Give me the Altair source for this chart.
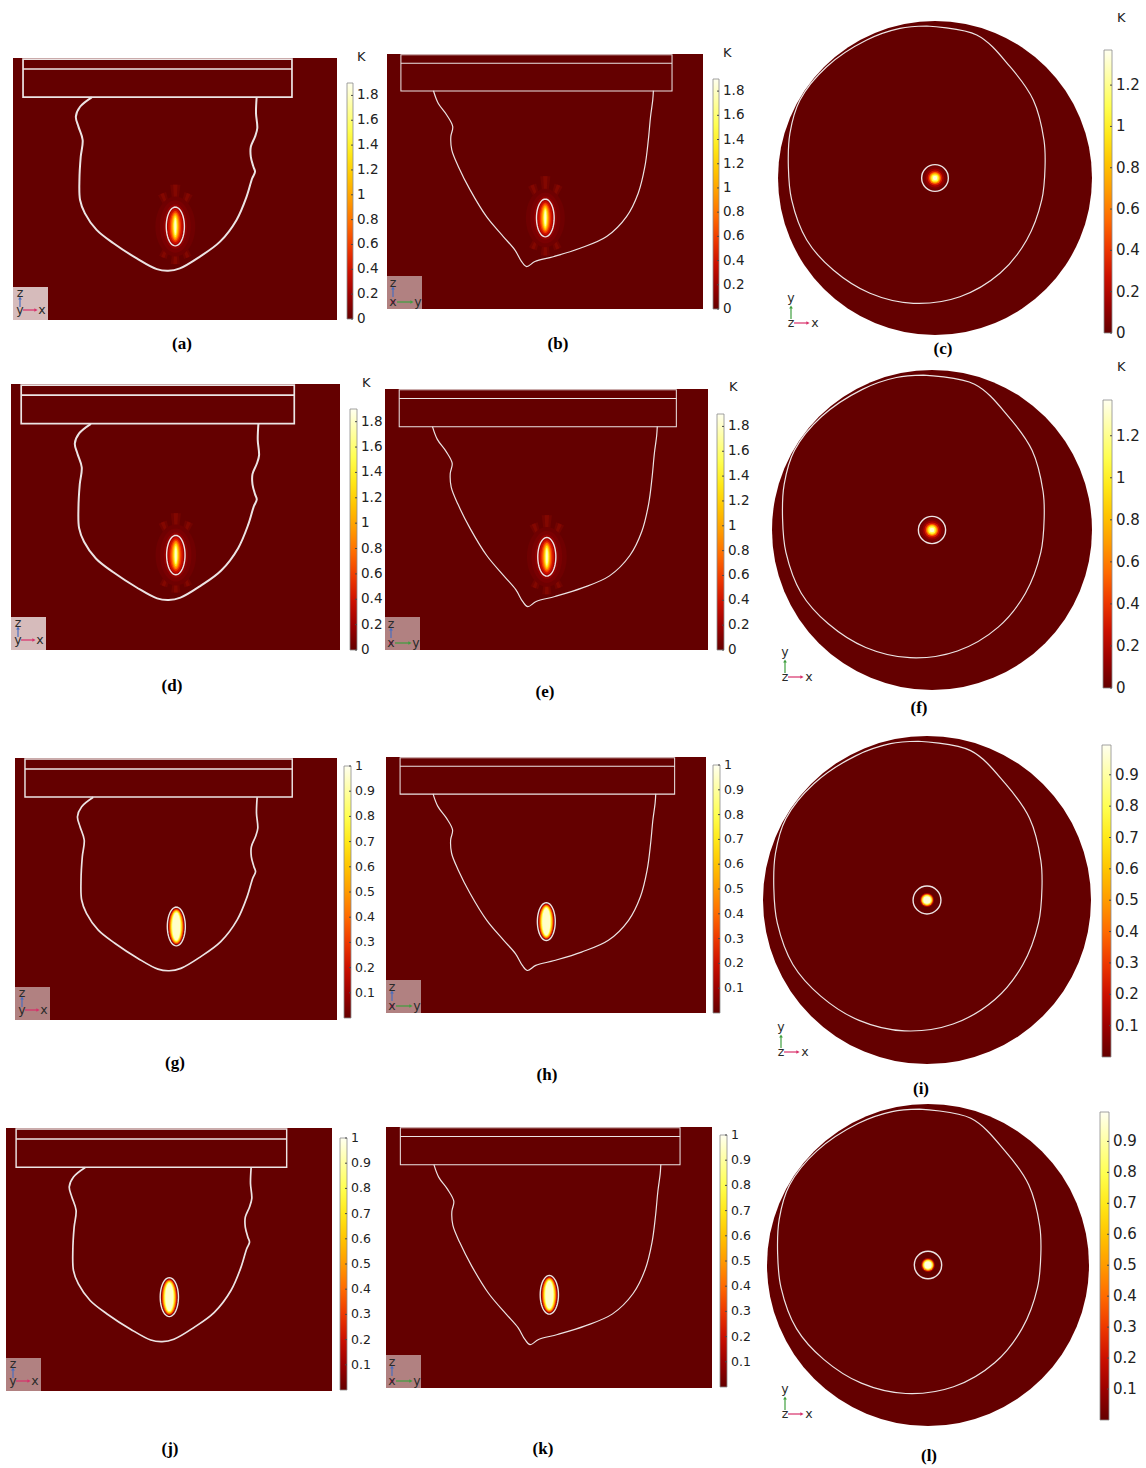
import math
import altair as alt
import pandas as pd

W, H = 1146, 1468

# ---------------- chart values ----------------
panel_keys = ["a", "b", "c", "d", "e", "f", "g", "h", "i", "j", "k", "l"]
panel_captions = ["(a)", "(b)", "(c)", "(d)", "(e)", "(f)",
                  "(g)", "(h)", "(i)", "(j)", "(k)", "(l)"]
panel_views = ["xz", "yz", "xy"] * 4
panel_rows = [1, 1, 1, 2, 2, 2, 3, 3, 3, 4, 4, 4]

# colour-bar ranges (upper end of each legend, lower end is 0)
range_max = [1.9, 1.9, 1.37, 1.9, 1.9, 1.37, 1.0, 1.0, 0.995, 1.0, 1.0, 0.995]
unit_labels = ["K", "K", "K", "K", "K", "K", "", "", "", "", "", ""]

ticks_a = ["0", "0.2", "0.4", "0.6", "0.8", "1", "1.2", "1.4", "1.6", "1.8"]
ticks_c = ["0", "0.2", "0.4", "0.6", "0.8", "1", "1.2"]
ticks_g = ["0.1", "0.2", "0.3", "0.4", "0.5", "0.6", "0.7", "0.8", "0.9", "1"]
ticks_i = ["0.1", "0.2", "0.3", "0.4", "0.5", "0.6", "0.7", "0.8", "0.9"]
panel_ticks = [ticks_a, ticks_a, ticks_c, ticks_a, ticks_a, ticks_c,
               ticks_g, ticks_g, ticks_i, ticks_g, ticks_g, ticks_i]

# thermal colour table (fraction of range -> colour)
cmap_pos = [0.0, 0.1, 0.2, 0.3, 0.4, 0.5, 0.6, 0.7, 0.8, 0.9, 1.0]
cmap_col = ["#640000", "#9c0000", "#cc1000", "#ee3800", "#ff6a00", "#ff9a00",
            "#ffc400", "#ffe818", "#ffff50", "#ffffa0", "#fffff0"]

# section outlines, % of the section window (u across, v down)
xz_u = [24.3, 20.7, 19.4, 20.2, 21.5, 20.9, 20.5, 20.7, 22.2, 25.8, 31.0, 38.2, 44.4,
        47.9, 51.5, 57.7, 63.9, 69.0, 72.1, 73.8, 74.7, 74.2, 73.4, 73.4, 74.7, 75.4,
        75.0, 75.2]
xz_v = [15.0, 18.6, 22.4, 26.2, 31.3, 37.7, 46.6, 54.2, 59.3, 65.6, 70.7, 76.5, 80.6,
        81.2, 80.3, 75.8, 70.1, 61.8, 52.9, 46.0, 43.4, 41.5, 37.7, 33.9, 30.0, 26.8,
        21.1, 15.0]
yz_u = [14.7, 16.2, 18.9, 20.8, 20.2, 20.5, 22.6, 26.3, 31.5, 36.8, 40.5, 42.6, 44.2,
        46.8, 52.6, 61.1, 69.5, 75.8, 79.5, 81.6, 82.7, 83.4, 84.1, 84.3]
yz_v = [14.4, 19.3, 23.9, 28.5, 32.4, 37.6, 44.2, 53.3, 63.8, 71.6, 76.9, 81.4, 83.4,
        81.4, 79.5, 76.2, 71.6, 63.8, 54.6, 44.2, 33.7, 24.6, 18.0, 14.4]
# plan-view outline, in units of the disc radius
xy_u = [-0.053, 0.266, 0.478, 0.626, 0.694, 0.701, 0.680, 0.584, 0.414, 0.159, -0.138,
        -0.414, -0.648, -0.817, -0.913, -0.934, -0.924, -0.860, -0.690, -0.435, -0.223]
xy_v = [-0.968, -0.911, -0.709, -0.497, -0.242, -0.072, 0.140, 0.395, 0.607, 0.756,
        0.798, 0.734, 0.586, 0.395, 0.140, -0.072, -0.285, -0.497, -0.709, -0.879, -0.953]

# upper block of the section views (% of window): u0, u1, v0, v_mid, v1
block_xz = [3.1, 86.1, 0.4, 4.2, 14.9]
block_yz = [4.4, 90.2, 0.3, 3.6, 14.5]

# heated inclusion: centre (%), boundary half-axes (%)
inclusion_uv = [50.1, 64.3]
inclusion_axes = [2.8, 7.4]
inclusion_ring_xy = 0.085
# nested isotherms: (x-scale, y-scale, fraction of range)
iso_low = [(2.2, 1.55, 0.02), (1.7, 1.35, 0.04), (1.3, 1.15, 0.08), (1.0, 1.0, 0.12),
           (0.8, 0.9, 0.2), (0.62, 0.8, 0.3), (0.48, 0.72, 0.42), (0.36, 0.64, 0.55),
           (0.26, 0.56, 0.7), (0.17, 0.46, 0.85), (0.09, 0.35, 0.95)]
iso_high = [(0.86, 0.93, 0.2), (0.76, 0.88, 0.4), (0.66, 0.83, 0.6),
            (0.56, 0.78, 0.8), (0.45, 0.72, 0.95)]
iso_disc_low = [(1.0, 0.02), (0.85, 0.04), (0.7, 0.1), (0.56, 0.22), (0.45, 0.4),
                (0.36, 0.6), (0.27, 0.8), (0.17, 0.96)]
iso_disc_high = [(0.5, 0.15), (0.43, 0.45), (0.36, 0.75), (0.27, 0.97)]

# ---------------- page layout (pixels) ----------------
rect_frames = {"a": (13, 58, 337, 320), "b": (387, 54, 703, 309),
               "d": (11, 384, 340, 650), "e": (385, 389, 708, 650),
               "g": (15, 758, 337, 1020), "h": (386, 757, 706, 1013),
               "j": (6, 1128, 332, 1391), "k": (386, 1127, 712, 1388)}
disc_frames = {"c": (935, 178, 157), "f": (932, 530, 160),
               "i": (927, 900, 164), "l": (928, 1265, 161)}
bar_frames = {"a": (347, 353, 83, 319), "b": (713, 719, 79, 309),
              "c": (1104, 1112, 50, 333), "d": (350, 357, 409, 650),
              "e": (717, 724, 414, 650), "f": (1103, 1112, 400, 688),
              "g": (344, 351, 766, 1018), "h": (713, 720, 765, 1013),
              "i": (1102, 1111, 745, 1057), "j": (340, 347, 1138, 1390),
              "k": (720, 727, 1135, 1387), "l": (1100, 1109, 1112, 1420)}
unit_pos = {"a": (357, 57), "b": (723, 53), "c": (1117, 18),
            "d": (362, 383), "e": (729, 387), "f": (1117, 367)}
caption_pos = {"a": (182, 344), "b": (558, 344), "c": (943, 349),
               "d": (172, 686), "e": (545, 692), "f": (919, 708),
               "g": (175, 1063), "h": (547, 1075), "i": (921, 1089),
               "j": (170, 1449), "k": (543, 1449), "l": (929, 1456)}
disc_triad = {"c": (791, 323), "f": (785, 677), "i": (781, 1052), "l": (785, 1414)}

BG = "#640000"
LINE = "#ece4e4"


def rect_map(frame, u, v):
    L, T, R, B = frame
    return L + u / 100.0 * (R - L), T + v / 100.0 * (B - T)


def ellipse_path(k, n=48):
    pts = []
    for i in range(n):
        a = 2 * math.pi * i / n
        pts.append(f"{k * math.sin(a):.4f},{-math.cos(a):.4f}")
    return "M" + "L".join(pts) + "Z"


def ray_path(width_deg):
    rays = [(0, 1.0), (22, 0.85), (-22, 0.85), (180, 0.9), (158, 0.8), (202, 0.8),
            (90, 0.4), (270, 0.4)]
    half = math.radians(width_deg)
    parts = []
    for deg, ln in rays:
        a = math.radians(deg)
        p1 = (ln * math.sin(a - half), -ln * math.cos(a - half))
        p2 = (ln * math.sin(a + half), -ln * math.cos(a + half))
        parts.append(f"M0,0L{p1[0]:.4f},{p1[1]:.4f}L{p2[0]:.4f},{p2[1]:.4f}Z")
    return "".join(parts)


# ---------------- tables ----------------
bg_rows, disc_rows, iso_rows, ring_rows, ray_rows = [], [], [], [], []
line_rows, block_rows, block_mid = [], [], []
bar_rows, tick_rows, label_rows, text_rows = [], [], [], []
triad_box, arrow_rows, head_rows, triad_text = [], [], [], []

for key, cap, view, row, vmax, unit, ticks in zip(
        panel_keys, panel_captions, panel_views, panel_rows, range_max,
        unit_labels, panel_ticks):
    hot = row >= 3
    if view in ("xz", "yz"):
        fr = rect_frames[key]
        L, T, R, B = fr
        w, h = R - L, B - T
        bg_rows.append({"x": L, "x2": R, "y": T, "y2": B})
        cx, cy = rect_map(fr, *inclusion_uv)
        rx = inclusion_axes[0] / 100 * w
        ry = inclusion_axes[1] / 100 * h
        if not hot:
            ray_rows.append({"x": cx, "y": cy, "sz": (2 * 42) ** 2})
        for fx, fy, t in (iso_high if hot else iso_low):
            iso_rows.append({"x": cx, "y": cy, "t": t,
                             "shape": ellipse_path((fx * rx) / (fy * ry)),
                             "sz": (2 * fy * ry) ** 2})
        ring_rows.append({"x": cx, "y": cy, "shape": ellipse_path(rx / ry),
                          "sz": (2 * ry) ** 2})
        us, vs = (xz_u, xz_v) if view == "xz" else (yz_u, yz_v)
        sw = (2.0 if not hot else 1.7) if view == "xz" else 1.2
        for i, (u, v) in enumerate(zip(us, vs)):
            px, py = rect_map(fr, u, v)
            line_rows.append({"key": key, "i": i, "x": px, "y": py, "sw": sw})
        blk = block_xz if view == "xz" else block_yz
        x0, y0 = rect_map(fr, blk[0], blk[2])
        x1, y1 = rect_map(fr, blk[1], blk[4])
        _, ym = rect_map(fr, blk[0], blk[3])
        block_rows.append({"x": x0, "x2": x1, "y": y0, "y2": y1, "sw": sw * 0.85})
        block_mid.append({"x": x0, "x2": x1, "y": ym, "sw": sw * 0.85})
        # orientation marker
        light = key in ("a", "d")
        triad_box.append({"x": L, "x2": L + 35, "y": B - 33, "y2": B,
                          "c": "#dcc5c5" if light else "#b58888"})
        if view == "xz":
            arrow_rows += [{"x": L + 7, "x2": L + 7, "y": B - 13, "y2": B - 21, "c": "#4a6fc0"},
                           {"x": L + 10, "x2": L + 22, "y": B - 10, "y2": B - 10, "c": "#d8306a"}]
            head_rows += [{"x": L + 7, "y": B - 22, "c": "#4a6fc0", "s": "triangle-up"},
                          {"x": L + 23, "y": B - 10, "c": "#d8306a", "s": "triangle-right"}]
            triad_text += [{"x": L + 7, "y": B - 27, "t": "z"}, {"x": L + 7, "y": B - 10, "t": "y"},
                           {"x": L + 29, "y": B - 10, "t": "x"}]
        else:
            arrow_rows += [{"x": L + 6, "x2": L + 6, "y": B - 12, "y2": B - 20, "c": "#4a6fc0"},
                           {"x": L + 10, "x2": L + 24, "y": B - 7, "y2": B - 7, "c": "#3f9f3f"}]
            head_rows += [{"x": L + 6, "y": B - 21, "c": "#4a6fc0", "s": "triangle-up"},
                          {"x": L + 25, "y": B - 7, "c": "#3f9f3f", "s": "triangle-right"},
                          {"x": L + 6, "y": B - 7, "c": "#d8306a", "s": "circle"}]
            triad_text += [{"x": L + 6, "y": B - 26, "t": "z"}, {"x": L + 6, "y": B - 7, "t": "x"},
                           {"x": L + 31, "y": B - 7, "t": "y"}]
    else:
        cxd, cyd, rd = disc_frames[key]
        disc_rows.append({"x": cxd, "y": cyd, "sz": (2 * rd) ** 2})
        rr = inclusion_ring_xy * rd
        for fr_, t in (iso_disc_high if hot else iso_disc_low):
            iso_rows.append({"x": cxd, "y": cyd, "t": t, "shape": "circle",
                             "sz": (2 * fr_ * rr) ** 2})
        ring_rows.append({"x": cxd, "y": cyd, "shape": "circle", "sz": (2 * rr) ** 2})
        pts = list(zip(xy_u, xy_v)) + [(xy_u[0], xy_v[0])]
        for i, (u, v) in enumerate(pts):
            line_rows.append({"key": key, "i": i, "x": cxd + u * rd, "y": cyd + v * rd,
                              "sw": 1.2})
        ox, oy = disc_triad[key]
        arrow_rows += [{"x": ox, "x2": ox, "y": oy - 4, "y2": oy - 15, "c": "#3f9f3f"},
                       {"x": ox + 3, "x2": ox + 16, "y": oy, "y2": oy, "c": "#d8306a"}]
        head_rows += [{"x": ox, "y": oy - 16, "c": "#3f9f3f", "s": "triangle-up"},
                      {"x": ox + 17, "y": oy, "c": "#d8306a", "s": "triangle-right"}]
        triad_text += [{"x": ox, "y": oy - 25, "t": "y"}, {"x": ox, "y": oy, "t": "z"},
                       {"x": ox + 24, "y": oy, "t": "x"}]

    # colour legend
    bx0, bx1, btop, bbot = bar_frames[key]
    bar_rows.append({"x": bx0, "x2": bx1, "y": btop, "y2": bbot})
    fs = 15 if view == "xy" else (13.5 if not hot else 12.5)
    for lab in ticks:
        val = float(lab)
        ty = bbot - val / vmax * (bbot - btop)
        tick_rows.append({"x": bx1 - 2, "x2": bx1, "y": ty})
        label_rows.append({"x": bx1 + 4, "y": ty, "t": lab, "fs": fs})
    if unit:
        text_rows.append({"x": unit_pos[key][0], "y": unit_pos[key][1], "t": unit})

caption_rows = [{"x": caption_pos[k][0], "y": caption_pos[k][1], "t": c}
                for k, c in zip(panel_keys, panel_captions)]

# ---------------- encodings ----------------
xs = alt.Scale(domain=[0, W], nice=False, zero=False)
ys = alt.Scale(domain=[0, H], nice=False, zero=False, reverse=True)


def X(f="x"):
    return alt.X(f"{f}:Q", scale=xs, axis=None)


def Y(f="y"):
    return alt.Y(f"{f}:Q", scale=ys, axis=None)


def D(rows):
    return alt.Chart(pd.DataFrame(rows))


cmap_scale = alt.Scale(domain=cmap_pos, range=cmap_col, clamp=True)

bg = D(bg_rows).mark_rect(color=BG).encode(x=X(), x2="x2:Q", y=Y(), y2="y2:Q")

discs = D(disc_rows).mark_point(shape="circle", filled=True, color=BG, opacity=1,
                                strokeWidth=0).encode(
    x=X(), y=Y(), size=alt.Size("sz:Q", scale=None, legend=None))

# soft streaks radiating from the inclusion
rays_wide = D(ray_rows).mark_point(shape=ray_path(7), filled=True, color="#a81000",
                                   opacity=0.2, strokeWidth=0).encode(
    x=X(), y=Y(), size=alt.Size("sz:Q", scale=None, legend=None))
rays_thin = D(ray_rows).mark_point(shape=ray_path(3), filled=True, color="#c01800",
                                   opacity=0.22, strokeWidth=0).encode(
    x=X(), y=Y(), size=alt.Size("sz:Q", scale=None, legend=None))

isotherms = D(iso_rows).mark_point(filled=True, opacity=1, strokeWidth=0).encode(
    x=X(), y=Y(),
    color=alt.Color("t:Q", scale=cmap_scale, legend=None),
    shape=alt.Shape("shape:N", scale=None, legend=None),
    size=alt.Size("sz:Q", scale=None, legend=None))

rings = D(ring_rows).mark_point(filled=False, opacity=1, strokeWidth=1.4,
                                color=LINE).encode(
    x=X(), y=Y(),
    shape=alt.Shape("shape:N", scale=None, legend=None),
    size=alt.Size("sz:Q", scale=None, legend=None))

outlines = D(line_rows).mark_line(color=LINE, interpolate="catmull-rom").encode(
    x=X(), y=Y(), detail="key:N", order="i:Q",
    strokeWidth=alt.StrokeWidth("sw:Q", scale=None, legend=None))

blocks = D(block_rows).mark_rect(fillOpacity=0, stroke=LINE).encode(
    x=X(), x2="x2:Q", y=Y(), y2="y2:Q",
    strokeWidth=alt.StrokeWidth("sw:Q", scale=None, legend=None))

block_lines = D(block_mid).mark_rule(color=LINE).encode(
    x=X(), x2="x2:Q", y=Y(),
    strokeWidth=alt.StrokeWidth("sw:Q", scale=None, legend=None))

grad = alt.LinearGradient(
    gradient="linear", x1=0, x2=0, y1=1, y2=0,
    stops=[alt.GradientStop(offset=p, color=c) for p, c in zip(cmap_pos, cmap_col)])

bars = D(bar_rows).mark_rect(fill=grad, stroke="#8c8c8c", strokeWidth=0.8).encode(
    x=X(), x2="x2:Q", y=Y(), y2="y2:Q")

bar_ticks = D(tick_rows).mark_rule(color="#4a4a4a", strokeWidth=1).encode(
    x=X(), x2="x2:Q", y=Y())

bar_labels = D(label_rows).mark_text(align="left", baseline="middle",
                                     font="DejaVu Sans", color="#222222").encode(
    x=X(), y=Y(), text="t:N", size=alt.Size("fs:Q", scale=None, legend=None))

units = D(text_rows).mark_text(align="left", baseline="middle", font="DejaVu Sans",
                               fontSize=13, color="#222222").encode(
    x=X(), y=Y(), text="t:N")

boxes = D(triad_box).mark_rect(opacity=0.95).encode(
    x=X(), x2="x2:Q", y=Y(), y2="y2:Q", color=alt.Color("c:N", scale=None))

arrows = D(arrow_rows).mark_rule(strokeWidth=1.2).encode(
    x=X(), x2="x2:Q", y=Y(), y2="y2:Q", color=alt.Color("c:N", scale=None))

heads = D(head_rows).mark_point(filled=True, opacity=1, size=14, strokeWidth=0).encode(
    x=X(), y=Y(), color=alt.Color("c:N", scale=None),
    shape=alt.Shape("s:N", scale=None, legend=None))

triad_labels = D(triad_text).mark_text(align="center", baseline="middle",
                                       font="DejaVu Sans", fontSize=12.5,
                                       color="#2a2a2a").encode(
    x=X(), y=Y(), text="t:N")

captions = D(caption_rows).mark_text(align="center", baseline="middle",
                                     font="Liberation Serif", fontWeight="bold",
                                     fontSize=17, color="#000000").encode(
    x=X(), y=Y(), text="t:N")

chart = alt.layer(
    bg, discs, rays_wide, rays_thin, isotherms, outlines, blocks, block_lines, rings,
    bars, bar_ticks, bar_labels, units, boxes, arrows, heads, triad_labels, captions
).properties(
    width=W, height=H, padding=0,
    autosize=alt.AutoSizeParams(type="none"),
    background="#ffffff",
).configure_view(strokeWidth=0)

chart.save("out.html", embed_options={"renderer": "svg", "actions": False})
